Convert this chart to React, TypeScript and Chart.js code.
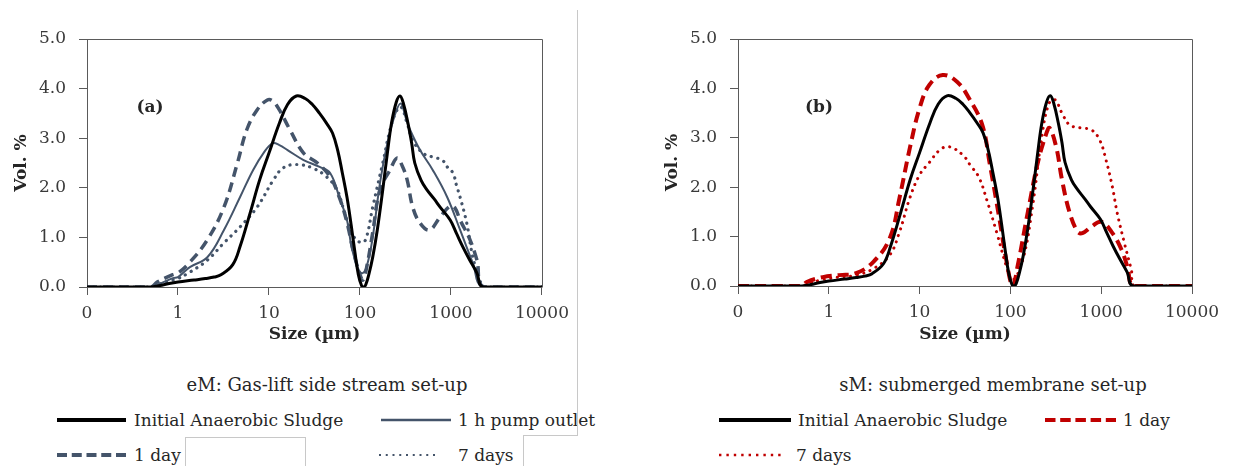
import React, { useEffect, useRef } from 'react';
import { Chart, registerables } from 'chart.js';
Chart.register(...registerables);

// ---------- data ----------
const xTickValues = [0.1, 1, 10, 100, 1000, 10000];
const xTickLabels = ['0', '1', '10', '100', '1000', '10000'];
const yTickValues = [0, 1, 2, 3, 4, 5];

const initialSizes = [0.1, 0.5, 0.6, 0.8, 1, 1.5, 2, 2.5, 3, 4, 4.8, 6.2, 7.9, 10, 13, 16, 20, 25, 30, 36, 43, 50, 57, 64, 72, 80, 88, 96, 104, 110, 116, 125, 138, 155, 178, 200, 222, 250, 275, 300, 337, 370, 400, 470, 545, 650, 760, 980, 1150, 1350, 1600, 1930, 2250, 10000];
const initialVol = [0, 0, 0.02, 0.07, 0.1, 0.14, 0.17, 0.2, 0.25, 0.45, 0.81, 1.49, 2.16, 2.7, 3.3, 3.68, 3.85, 3.8, 3.68, 3.5, 3.3, 3.1, 2.75, 2.3, 1.81, 1.25, 0.7, 0.25, 0.03, 0, 0.05, 0.25, 0.6, 1.15, 1.96, 2.7, 3.3, 3.72, 3.85, 3.7, 3.3, 2.9, 2.5, 2.15, 1.96, 1.78, 1.61, 1.35, 1.08, 0.81, 0.55, 0.28, 0, 0];

const pumpSizes = [0.1, 0.5, 0.6, 0.88, 1, 1.35, 2.1, 3.2, 4.8, 6.7, 8.7, 11, 13, 16, 24, 36, 47, 60, 72, 81, 95, 107, 120, 138, 166, 200, 240, 280, 320, 355, 457, 630, 910, 1260, 1740, 2250, 10000];
const pumpVol = [0, 0, 0.05, 0.18, 0.2, 0.4, 0.6, 1.15, 1.81, 2.36, 2.7, 2.9, 2.86, 2.76, 2.56, 2.42, 2.3, 1.78, 1.35, 0.8, 0.38, 0.28, 0.45, 1.0, 2.1, 2.9, 3.45, 3.7, 3.4, 3.17, 2.76, 2.36, 1.81, 1.15, 0.48, 0, 0];

const dayASizes = [0.1, 0.5, 0.59, 0.88, 1, 1.35, 2.1, 3.2, 4.5, 5.7, 7.4, 9.6, 11, 13, 17, 24, 34, 47, 60, 72, 85, 100, 108, 120, 138, 166, 214, 255, 290, 330, 380, 457, 580, 760, 980, 1100, 1260, 1620, 1930, 2300, 10000];
const dayAVol = [0, 0, 0.1, 0.25, 0.28, 0.5, 0.95, 1.61, 2.5, 3.17, 3.57, 3.77, 3.75, 3.57, 3.17, 2.7, 2.5, 2.22, 1.78, 1.3, 0.7, 0.25, 0.14, 0.45, 1.1, 1.96, 2.36, 2.6, 2.45, 2.16, 1.61, 1.29, 1.15, 1.41, 1.63, 1.6, 1.35, 0.95, 0.54, 0, 0];

const weekASizes = [0.1, 0.5, 0.6, 0.88, 1, 1.35, 2.1, 3.2, 4.8, 7.4, 11.2, 14.3, 20, 30, 43, 56, 65, 81, 100, 115, 138, 178, 230, 280, 330, 380, 490, 630, 800, 910, 1050, 1150, 1260, 1490, 1740, 2080, 2300, 10000];
const weekAVol = [0, 0, 0.05, 0.14, 0.17, 0.3, 0.54, 0.89, 1.21, 1.61, 2.16, 2.4, 2.47, 2.4, 2.22, 1.96, 1.61, 1.09, 0.9, 0.95, 1.61, 2.5, 3.37, 3.63, 3.3, 2.96, 2.7, 2.62, 2.56, 2.42, 2.3, 2.05, 1.81, 1.29, 0.6, 0.14, 0, 0];

const dayBSizes = [0.1, 0.5, 0.57, 0.86, 1.3, 2, 3.1, 4.7, 6, 7.8, 10, 12.8, 18, 26, 35, 49, 59, 76, 90, 106, 120, 155, 200, 250, 270, 320, 370, 450, 550, 620, 780, 1000, 1330, 1680, 1950, 2300, 10000];
const dayBVol = [0, 0, 0.08, 0.18, 0.22, 0.26, 0.49, 0.97, 1.78, 2.79, 3.6, 4.07, 4.27, 4.13, 3.8, 3.26, 2.49, 1.34, 0.53, 0, 0.4, 1.48, 2.49, 3.1, 3.2, 2.81, 2.15, 1.48, 1.1, 1.07, 1.2, 1.3, 1.07, 0.73, 0.38, 0, 0];

const weekBSizes = [0.1, 0.5, 0.6, 0.86, 1.3, 2, 3.1, 4.7, 6, 7.8, 10, 12.8, 16.6, 21, 30, 36, 45, 55, 71, 91, 106, 137, 175, 225, 267, 310, 370, 450, 600, 780, 960, 1130, 1330, 1500, 1800, 2150, 2350, 10000];
const weekBVol = [0, 0, 0.05, 0.13, 0.18, 0.22, 0.35, 0.63, 1.09, 1.78, 2.25, 2.5, 2.75, 2.82, 2.65, 2.45, 2.2, 1.74, 1.07, 0.38, 0.12, 0.53, 1.6, 3.1, 3.7, 3.77, 3.5, 3.26, 3.2, 3.16, 2.96, 2.55, 2.0, 1.48, 0.87, 0.32, 0, 0];

const seriesNamesA = ['Initial Anaerobic Sludge', '1 h pump outlet', '1 day', '7 days'];
const seriesNamesB = ['Initial Anaerobic Sludge', '1 day', '7 days'];
const captionA = 'eM: Gas-lift side stream set-up';
const captionB = 'sM: submerged membrane set-up';

// ---------- styles ----------
const FONT = '"DejaVu Serif", serif';
const SLATE = '#44546A';
const RED = '#C00000';
const AXIS = '#5a5a5a';

const pts = (xs: number[], ys: number[]) => xs.map((x, i) => ({ x, y: ys[i] }));

const framePlugin = {
  id: 'frame',
  afterDraw(chart: any) {
    const { ctx, chartArea } = chart;
    const { left, top, right, bottom } = chartArea;
    ctx.save();
    ctx.strokeStyle = AXIS;
    ctx.lineWidth = 1;
    ctx.beginPath();
    ctx.moveTo(Math.round(left) + 0.5, Math.round(top) + 0.5);
    ctx.lineTo(Math.round(right) + 0.5, Math.round(top) + 0.5);
    ctx.lineTo(Math.round(right) + 0.5, Math.round(bottom) + 0.5);
    ctx.stroke();
    ctx.restore();
  },
};

function makeOptions(padLeft: number, padRight: number, xAxisH: number) {
  return {
    responsive: false,
    animation: false as const,
    devicePixelRatio: 1,
    layout: { padding: { left: padLeft, right: padRight, top: 39, bottom: 0 } },
    plugins: { legend: { display: false }, tooltip: { enabled: false } },
    elements: { point: { radius: 0 } },
    scales: {
      x: {
        type: 'logarithmic' as const,
        min: 0.1,
        max: 10000,
        afterBuildTicks: (scale: any) => {
          scale.ticks = xTickValues.map((v) => ({ value: v }));
        },
        afterFit: (scale: any) => {
          scale.height = xAxisH;
        },
        ticks: {
          autoSkip: false,
          maxRotation: 0,
          padding: 8,
          color: '#3a3a3a',
          font: { family: FONT, size: 17 },
          callback: (v: any) => {
            const i = xTickValues.indexOf(Number(v));
            return i >= 0 ? xTickLabels[i] : '';
          },
        },
        grid: { display: true, drawOnChartArea: false, drawTicks: true, tickLength: 8, color: AXIS },
        border: { display: true, color: AXIS, width: 1 },
        title: {
          display: true,
          text: 'Size (µm)',
          color: '#262626',
          font: { family: FONT, size: 17, weight: 'bold' as const },
          padding: { top: 0, bottom: 15 },
        },
      },
      y: {
        min: 0,
        max: 5,
        afterBuildTicks: (scale: any) => {
          scale.ticks = yTickValues.map((v) => ({ value: v }));
        },
        afterFit: (scale: any) => {
          scale.width = 87;
        },
        ticks: {
          padding: 13,
          color: '#3a3a3a',
          font: { family: FONT, size: 17 },
          callback: (v: any) => Number(v).toFixed(1),
        },
        grid: { display: true, drawOnChartArea: false, drawTicks: true, tickLength: 8, color: AXIS },
        border: { display: true, color: AXIS, width: 1 },
        title: {
          display: true,
          text: 'Vol. %',
          color: '#262626',
          font: { family: FONT, size: 17, weight: 'bold' as const },
          padding: { top: 11, bottom: 0 },
        },
      },
    },
  };
}

const lineBase = { pointRadius: 0, fill: false, tension: 0.4, borderJoinStyle: 'round' as const };

function datasetsA() {
  return [
    { ...lineBase, label: seriesNamesA[0], data: pts(initialSizes, initialVol), borderColor: '#000000', borderWidth: 3 },
    { ...lineBase, label: seriesNamesA[1], data: pts(pumpSizes, pumpVol), borderColor: SLATE, borderWidth: 2 },
    { ...lineBase, label: seriesNamesA[2], data: pts(dayASizes, dayAVol), borderColor: SLATE, borderWidth: 3.5, borderDash: [10, 6] },
    { ...lineBase, label: seriesNamesA[3], data: pts(weekASizes, weekAVol), borderColor: SLATE, borderWidth: 3.2, borderDash: [0.1, 6.6], borderCapStyle: 'round' as const },
  ];
}

function datasetsB() {
  return [
    { ...lineBase, label: seriesNamesB[0], data: pts(initialSizes, initialVol), borderColor: '#000000', borderWidth: 3 },
    { ...lineBase, label: seriesNamesB[1], data: pts(dayBSizes, dayBVol), borderColor: RED, borderWidth: 4, borderDash: [11, 6] },
    { ...lineBase, label: seriesNamesB[2], data: pts(weekBSizes, weekBVol), borderColor: RED, borderWidth: 3, borderDash: [0.1, 6.6], borderCapStyle: 'round' as const },
  ];
}

function Panel(props: { left: number; width: number; height: number; padLeft: number; padRight: number; xAxisH: number; makeData: () => any[] }) {
  const ref = useRef<HTMLCanvasElement | null>(null);
  useEffect(() => {
    if (!ref.current) return;
    const chart = new Chart(ref.current, {
      type: 'line',
      data: { datasets: props.makeData() },
      options: makeOptions(props.padLeft, props.padRight, props.xAxisH) as any,
      plugins: [framePlugin],
    });
    return () => chart.destroy();
  }, []);
  return (
    <canvas
      ref={ref}
      width={props.width}
      height={props.height}
      style={{ position: 'absolute', left: props.left, top: 0, width: props.width, height: props.height }}
    />
  );
}

function Sample(p: { x: number; y: number; w: number; color: string; sw: number; dash?: string; cap?: 'round' | 'butt' | 'square' }) {
  return (
    <svg style={{ position: 'absolute', left: p.x, top: p.y - 6, width: p.w, height: 12, overflow: 'visible' }}>
      <line x1={0} y1={6} x2={p.w} y2={6} stroke={p.color} strokeWidth={p.sw} strokeDasharray={p.dash} strokeLinecap={p.cap || 'butt'} />
    </svg>
  );
}

function Label(p: { x: number; y: number; text: string; size?: number; center?: boolean; bold?: boolean }) {
  const size = p.size || 17;
  return (
    <div
      style={{
        position: 'absolute',
        left: p.x,
        top: p.y - 12,
        height: 24,
        lineHeight: '24px',
        fontFamily: FONT,
        fontSize: size,
        fontWeight: p.bold ? 'bold' : 'normal',
        color: '#262626',
        whiteSpace: 'nowrap',
        transform: p.center ? 'translateX(-50%)' : undefined,
      }}
    >
      {p.text}
    </div>
  );
}

function Rule(p: { x: number; y: number; w: number; h: number }) {
  return <div style={{ position: 'absolute', left: p.x, top: p.y, width: p.w, height: p.h, background: '#c8c8c8' }} />;
}

export default function App() {
  return (
    <div style={{ position: 'absolute', left: 0, top: 0, width: 1234, height: 466, overflow: 'hidden', background: '#ffffff' }}>
      <Panel left={0} width={577} height={360} padLeft={0} padRight={35} xAxisH={73} makeData={datasetsA} />
      <Panel left={577} width={657} height={360} padLeft={74} padRight={42} xAxisH={74} makeData={datasetsB} />

      <Label x={150} y={106} text="(a)" bold center />
      <Label x={819} y={106} text="(b)" bold center />

      <Label x={327} y={385} text={captionA} size={18} center />
      <Label x={993} y={385} text={captionB} size={18} center />

      <Sample x={57} y={420} w={69} color="#000000" sw={4} />
      <Label x={134} y={420} text={seriesNamesA[0]} />
      <Sample x={381} y={420} w={70} color={SLATE} sw={2.5} />
      <Label x={458} y={420} text={seriesNamesA[1]} />
      <Sample x={57} y={455} w={69} color={SLATE} sw={4} dash="10 4.75" />
      <Label x={134} y={455} text={seriesNamesA[2]} />
      <Sample x={379} y={455} w={60} color={SLATE} sw={2.2} dash="2 4.75" />
      <Label x={458} y={455} text={seriesNamesA[3]} />

      <Sample x={719} y={420} w={72} color="#000000" sw={4} />
      <Label x={798} y={420} text={seriesNamesB[0]} />
      <Sample x={1045} y={420} w={71} color={RED} sw={4} dash="10.5 4.7" />
      <Label x={1123} y={420} text={seriesNamesB[1]} />
      <Sample x={719} y={455} w={65} color={RED} sw={2.4} dash="2.4 5" />
      <Label x={796} y={455} text={seriesNamesB[2]} />

      {/* page artefacts: thin grey frame lines */}
      <Rule x={577} y={10} w={1} h={425} />
      <Rule x={523} y={435} w={55} h={1} />
      <Rule x={523} y={435} w={1} h={31} />
      <Rule x={185} y={437} w={121} h={1} />
      <Rule x={185} y={437} w={1} h={29} />
      <Rule x={305} y={437} w={1} h={29} />
    </div>
  );
}
